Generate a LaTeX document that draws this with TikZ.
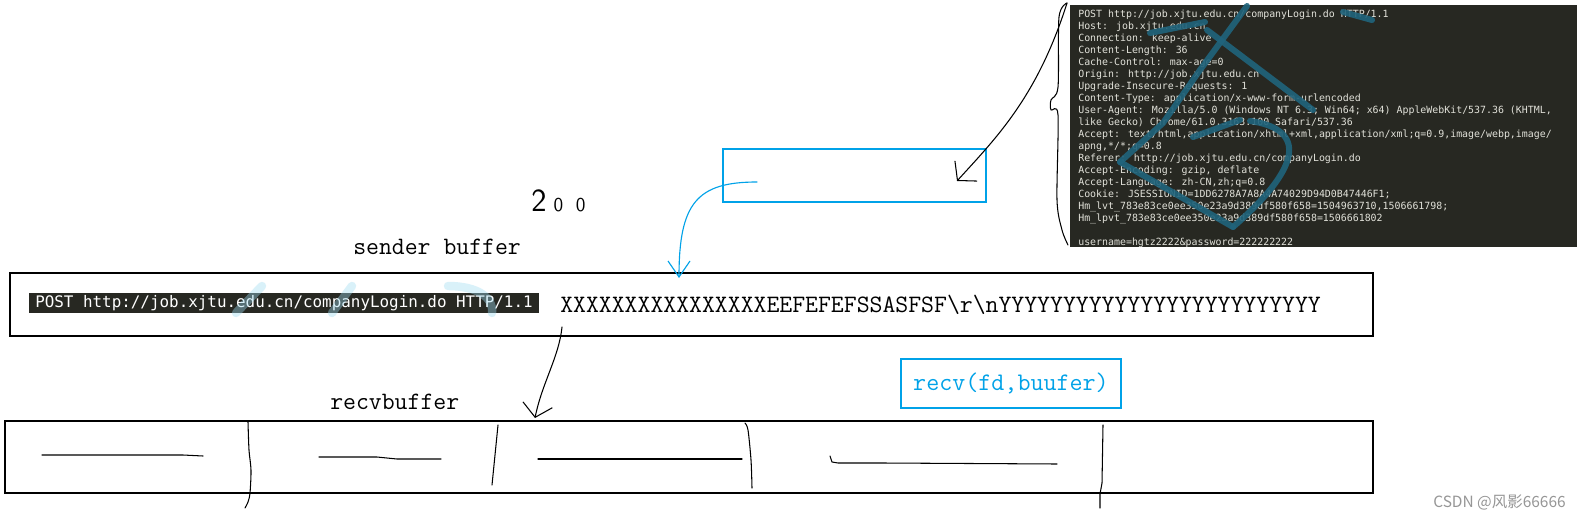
\documentclass[tikz,border=0pt]{standalone}
\usepackage{fontspec}
\usepackage{tikz}
\usetikzlibrary{arrows.meta, positioning}
\newfontfamily\consolefont{DejaVu Sans Mono}
\newfontfamily\cjkfont{Noto Sans CJK SC}
\definecolor{paintblue}{RGB}{0,162,232}
\definecolor{termbg}{RGB}{39,40,34}
\definecolor{termfg}{RGB}{226,226,218}
\definecolor{inkteal}{RGB}{32,100,124}
\definecolor{inkfaint}{RGB}{160,220,242}
\definecolor{markgray}{RGB}{150,150,150}
\tikzset{
  bufbox/.style={rectangle, draw=black, line width=1pt, inner sep=0pt},
  callbox/.style={rectangle, draw=paintblue, line width=0.9pt, inner sep=0pt},
  simfont/.style={font=\ttfamily\fontsize{17.8}{20}\selectfont, inner sep=0pt},
  termline/.style={rectangle, fill=termbg, text=white, inner sep=0pt,
    font=\consolefont\fontsize{11.3}{13}\selectfont},
  pen/.style={black, line width=0.75pt, line cap=round, line join=round},
  bluepen/.style={paintblue, line width=0.8pt, line cap=round, line join=round},
  handarrow/.style={-{Straight Barb[length=3.2mm, width=7.5mm]}},
  brush/.style={inkteal, line width=4.3pt, line cap=round, line join=round}
}

\begin{document}
\begin{tikzpicture}[x=0.025cm, y=-0.025cm]
  \useasboundingbox (0,0) rectangle (1582,519);
  \fill[white] (0,0) rectangle (1582,519);

  % captured request (top right)
  \node[rectangle, fill=termbg, inner sep=0pt, minimum width=12.675cm,
    minimum height=6.05cm, anchor=north west] (term) at (1070,5) {};
  \node[anchor=north west, inner sep=0pt, align=left, text=termfg,
    font=\consolefont\fontsize{7.05}{8.54}\selectfont] (request) at (1078,10)
    {POST http://job.xjtu.edu.cn/companyLogin.do HTTP/1.1\\
     Host: job.xjtu.edu.cn\\
     Connection: keep-alive\\
     Content-Length: 36\\
     Cache-Control: max-age=0\\
     Origin: http://job.xjtu.edu.cn\\
     Upgrade-Insecure-Requests: 1\\
     Content-Type: application/x-www-form-urlencoded\\
     User-Agent: Mozilla/5.0 (Windows NT 6.3; Win64; x64) AppleWebKit/537.36 (KHTML,\\
     like Gecko) Chrome/61.0.3163.100 Safari/537.36\\
     Accept: text/html,application/xhtml+xml,application/xml;q=0.9,image/webp,image/\\
     apng,*/*;q=0.8\\
     Referer: http://job.xjtu.edu.cn/companyLogin.do\\
     Accept-Encoding: gzip, deflate\\
     Accept-Language: zh-CN,zh;q=0.8\\
     Cookie: JSESSIONID=1DD6278A7A8A4A74029D94D0B47446F1;\\
     Hm\_lvt\_783e83ce0ee350e23a9d389df580f658=1504963710,1506661798;\\
     Hm\_lpvt\_783e83ce0ee350e23a9d389df580f658=1506661802\\
     \mbox{}\\
     username=hgtz2222\&password=222222222};
  % scribble over the capture
  \begin{scope}[brush, opacity=0.9]
    \draw (1247,6) -- (1200,70) -- (1163,123) -- (1120,162);
    \draw (1207,30) -- (1260,70) -- (1313,110);
    \draw (1150,33) -- (1205,22);
    \draw (1343,12) -- (1372,20);
    \draw (1120,162) -- (1233,227);
    \draw (1250,121) .. controls (1300,128) and (1310,160) .. (1233,227);
    \draw (1193,137) -- (1240,120);
  \end{scope}

  % brace and pointer
  \draw[pen] plot[smooth] coordinates {(1067,3) (1059,17) (1058,87) (1051,100)
    (1051,110) (1058,115) (1057,200) (1062,230) (1068,245)};
  \node[callbox, minimum width=6.575cm, minimum height=1.325cm] (msg) at (854.5,175.5) {};
  \coordinate (brtop) at (1067,3);
  \coordinate (hint) at (957,181);
  \draw[pen, handarrow] (brtop) .. controls +(-30,95) and +(38,-42) .. (hint);

  \node[anchor=base west, inner sep=0pt, font=\sffamily] (count) at (531,211)
    {\fontsize{23}{23}\selectfont 2\hspace{5pt}\fontsize{14}{14}\selectfont 0\hspace{9pt}0};

  % sender buffer
  \node[simfont, anchor=base west] (sendlbl) at (353,254) {sender buffer};
  \node[bufbox, minimum width=34.075cm, minimum height=1.575cm] (sendbuf) at (691.5,304.5) {};
  \node[termline, minimum width=12.75cm, minimum height=0.5cm] (reqline) at (284,303)
    {POST http://job.xjtu.edu.cn/companyLogin.do HTTP/1.1};
  \node[simfont, anchor=base west] (payload) at (560,312)
    {XXXXXXXXXXXXXXXXEEFEFEFSSASFSF\textbackslash r\textbackslash nYYYYYYYYYYYYYYYYYYYYYYYYY};
  \begin{scope}[inkfaint, line width=6pt, opacity=0.4, line cap=round]
    \draw (236,313) -- (262,286);
    \draw (332,313) -- (352,286);
    \draw (448,286) .. controls (478,286) and (494,298) .. (492,313);
  \end{scope}

  \coordinate (msgout) at (757,182);
  \coordinate (sendin) at (679,278);
  \draw[bluepen, -{Straight Barb[length=4mm, width=5.5mm]}]
    (msgout) .. controls +(-60,0) and +(0,-75) .. (sendin);

  % recv call
  \node[callbox, minimum width=5.5cm, minimum height=1.225cm, text=paintblue,
    font=\ttfamily\fontsize{18}{20}\selectfont] (recvcall) at (1011,383.5) {recv(fd,buufer)};

  % recv buffer
  \node[simfont, anchor=base west] (recvlbl) at (330,409) {recvbuffer};
  \node[bufbox, minimum width=34.2cm, minimum height=1.8cm] (recvbuf) at (689,457) {};
  \coordinate (sendout) at (562,327);
  \coordinate (recvin) at (535,418);
  \draw[pen, handarrow] (sendout) .. controls +(-3,30) and +(7,-35) .. (recvin);

  % hand drawn pieces
  \draw[pen] plot[smooth] coordinates {(248,422) (249,450) (251,470) (250,493) (248,502) (245,508)};
  \draw[pen] (42,455) -- (183,455) -- (203,456);
  \draw[pen] (319,457) -- (377,457) -- (397,459) -- (441,459);
  \draw[pen] (498,425) -- (492,485);
  \draw[pen] (538,459) -- (742,459);
  \draw[pen] plot[smooth] coordinates {(745,423) (748,430) (751,460) (752,488)};
  \draw[pen] (830,456) -- (832,462) -- (838,463) -- (883,463) -- (1057,464);
  \draw[pen] (1103,425) -- (1102,483) -- (1100,494) -- (1100,508);

  \node[anchor=east, inner sep=0pt, text=markgray,
    font=\cjkfont\fontsize{11}{13}\selectfont] (credit) at (1566,502) {CSDN @风影66666};
\end{tikzpicture}
\end{document}
